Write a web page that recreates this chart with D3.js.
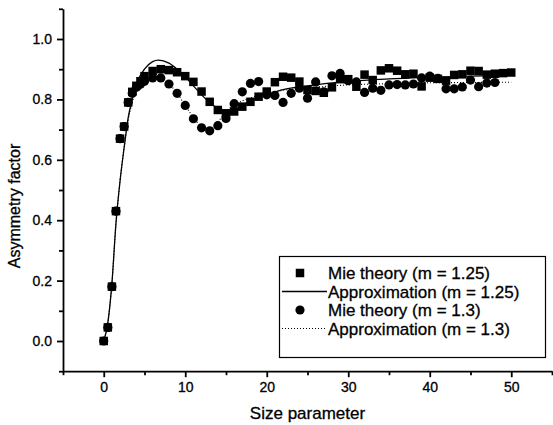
<!DOCTYPE html>
<meta charset="utf-8">
<style>
body {
  margin: 0;
  background: #fff;
  font-family: Arial, "Liberation Sans", Helvetica, sans-serif;
}
.axis path, .axis line {
  fill: none;
  stroke: #000;
  stroke-width: 1.8;
}
.axis text {
  font-size: 14px;
  fill: #000;
  stroke: #000;
  stroke-width: 0.3;
}
.label, .legend text {
  font-size: 17px;
  fill: #000;
  stroke: #000;
  stroke-width: 0.3;
}
</style>
<body>
<script src="https://cdn.jsdelivr.net/npm/d3@7"></script>
<script>

var width = 553,
    height = 425;

// Mie theory, m = 1.25 (squares)
var mieX125 = [0, 0.5, 1, 1.5, 2, 2.5, 3, 3.5, 4, 4.5, 5, 6, 7, 8, 9, 10, 11, 12, 13, 14, 15, 16, 17, 18, 19, 20,
  21, 22, 23, 24, 25, 26, 27, 28, 29, 30, 31, 32, 33, 34, 35, 36, 37, 38, 39, 40, 41, 42, 43, 44, 45, 46, 47, 48, 49, 50];
var mieY125 = [0, 0.045, 0.18, 0.43, 0.67, 0.71, 0.79, 0.825, 0.845, 0.86, 0.877, 0.894, 0.90, 0.897, 0.89, 0.877,
  0.858, 0.826, 0.792, 0.765, 0.754, 0.76, 0.776, 0.792, 0.809, 0.826, 0.857, 0.875, 0.872, 0.859, 0.831, 0.828,
  0.822, 0.84, 0.867, 0.867, 0.842, 0.882, 0.864, 0.896, 0.903, 0.895, 0.883, 0.885, 0.843, 0.872, 0.868, 0.862,
  0.881, 0.883, 0.895, 0.894, 0.882, 0.885, 0.887, 0.889];

// Mie theory, m = 1.3 (circles)
var mieX13 = [0, 0.5, 1, 1.5, 2, 2.5, 3, 3.5, 4, 4.5, 5, 6, 7, 8, 9, 10, 11, 12, 13, 14, 15, 16, 17, 18, 19, 20,
  21, 22, 23, 24, 25, 26, 27, 28, 29, 30, 31, 32, 33, 34, 35, 36, 37, 38, 39, 40, 41, 42, 43, 44, 45, 46, 47, 48];
var mieY13 = [0, 0.045, 0.18, 0.43, 0.67, 0.71, 0.79, 0.82, 0.84, 0.85, 0.86, 0.871, 0.871, 0.851, 0.82, 0.78,
  0.736, 0.706, 0.696, 0.713, 0.737, 0.786, 0.825, 0.853, 0.859, 0.815, 0.813, 0.79, 0.82, 0.837, 0.804, 0.858,
  0.825, 0.878, 0.886, 0.862, 0.858, 0.823, 0.837, 0.830, 0.848, 0.849, 0.848, 0.851, 0.871, 0.877, 0.870, 0.835,
  0.835, 0.841, 0.864, 0.842, 0.854, 0.856];

// Approximation curves
var apX = [0, 0.5, 1, 1.5, 2, 2.5, 3, 3.5, 4, 5, 6, 6.7, 8, 9, 10, 11, 12, 13, 14, 15, 16, 17, 18, 19, 20,
  22, 25, 30, 35, 40, 45, 50];
var apY125 = [0, 0.06, 0.19, 0.39, 0.53, 0.64, 0.74, 0.80, 0.85, 0.90, 0.925, 0.93, 0.92, 0.90, 0.875, 0.845,
  0.815, 0.79, 0.77, 0.76, 0.765, 0.78, 0.795, 0.806, 0.815, 0.832, 0.845, 0.86, 0.868, 0.873, 0.877, 0.88];
var apY13 = [0, 0.06, 0.19, 0.39, 0.53, 0.64, 0.73, 0.79, 0.83, 0.865, 0.878, 0.875, 0.852, 0.82, 0.78, 0.74,
  0.71, 0.70, 0.725, 0.76, 0.78, 0.795, 0.805, 0.813, 0.82, 0.83, 0.838, 0.848, 0.852, 0.855, 0.856, 0.857];

var xTicks = [0, 10, 20, 30, 40, 50];
var yTicks = [0.0, 0.2, 0.4, 0.6, 0.8, 1.0];

var legendLabels = ["Mie theory (m = 1.25)", "Approximation (m = 1.25)",
  "Mie theory (m = 1.3)", "Approximation (m = 1.3)"];

var x = d3.scaleLinear().domain([-5, 55]).range([63, 552]);
var y = d3.scaleLinear().domain([-0.1, 1.1]).range([371.2, 8.8]);

var svg = d3.select("body").append("svg")
    .attr("width", width)
    .attr("height", height);

// axes: majors with labels, minors without
svg.append("g")
    .attr("class", "axis")
    .attr("transform", "translate(0," + y(-0.1) + ")")
    .call(d3.axisBottom(x).tickValues(xTicks).tickSize(6).tickSizeOuter(0).tickPadding(5)
      .tickFormat(d3.format("d")));
svg.append("g")
    .attr("class", "axis")
    .attr("transform", "translate(0," + y(-0.1) + ")")
    .call(d3.axisBottom(x).tickValues(d3.range(-5, 56, 10)).tickSize(4).tickSizeOuter(0).tickFormat(""))
    .select(".domain").remove();

svg.append("g")
    .attr("class", "axis")
    .attr("transform", "translate(" + x(-5) + ",0)")
    .call(d3.axisLeft(y).tickValues(yTicks).tickSize(6).tickSizeOuter(0).tickPadding(5)
      .tickFormat(d3.format(".1f")));
svg.append("g")
    .attr("class", "axis")
    .attr("transform", "translate(" + x(-5) + ",0)")
    .call(d3.axisLeft(y).tickValues([-0.1, 0.1, 0.3, 0.5, 0.7, 0.9, 1.1]).tickSize(4).tickSizeOuter(0).tickFormat(""))
    .select(".domain").remove();

svg.append("text")
    .attr("class", "label")
    .attr("x", x(25))
    .attr("y", 419)
    .attr("text-anchor", "middle")
    .text("Size parameter");

svg.append("text")
    .attr("class", "label")
    .attr("transform", "translate(20," + 206 + ") rotate(-90)")
    .attr("text-anchor", "middle")
    .style("font-size", "16px")
    .text("Asymmetry factor");

// curves
var line = d3.line()
    .x(function(d) { return x(d[0]); })
    .y(function(d) { return y(d[1]); })
    .curve(d3.curveMonotoneX);

svg.append("path")
    .datum(d3.zip(apX, apY125))
    .attr("d", line)
    .attr("fill", "none")
    .attr("stroke", "#000")
    .attr("stroke-width", 1.3);

svg.append("path")
    .datum(d3.zip(apX, apY13))
    .attr("d", line)
    .attr("fill", "none")
    .attr("stroke", "#000")
    .attr("stroke-width", 1.1)
    .attr("stroke-dasharray", "1,2");

// markers
var sq = 8.5;
svg.append("g").selectAll("rect")
    .data(d3.zip(mieX125, mieY125))
  .enter().append("rect")
    .attr("x", function(d) { return x(d[0]) - sq / 2; })
    .attr("y", function(d) { return y(d[1]) - sq / 2; })
    .attr("width", sq)
    .attr("height", sq)
    .attr("fill", "#000");

svg.append("g").selectAll("circle")
    .data(d3.zip(mieX13, mieY13))
  .enter().append("circle")
    .attr("cx", function(d) { return x(d[0]); })
    .attr("cy", function(d) { return y(d[1]); })
    .attr("r", 4.6)
    .attr("fill", "#000");

// legend
var legend = svg.append("g").attr("class", "legend");
legend.append("rect")
    .attr("x", 279.5).attr("y", 256.5)
    .attr("width", 266).attr("height", 101)
    .attr("fill", "#fff")
    .attr("stroke", "#000")
    .attr("stroke-width", 1.2);

var rowY = [273, 291.5, 310, 328.5];
legendLabels.forEach(function(t, i) {
  legend.append("text")
      .attr("x", 328)
      .attr("y", rowY[i] + 6)
      .text(t);
});
legend.append("rect")
    .attr("x", 300 - sq / 2).attr("y", rowY[0] - sq / 2)
    .attr("width", sq).attr("height", sq)
    .attr("fill", "#000");
legend.append("line")
    .attr("x1", 282).attr("x2", 327)
    .attr("y1", rowY[1]).attr("y2", rowY[1])
    .attr("stroke", "#000").attr("stroke-width", 1.3);
legend.append("circle")
    .attr("cx", 300).attr("cy", rowY[2]).attr("r", 4.6)
    .attr("fill", "#000");
legend.append("line")
    .attr("x1", 282).attr("x2", 327)
    .attr("y1", rowY[3]).attr("y2", rowY[3])
    .attr("stroke", "#000").attr("stroke-width", 1.1)
    .attr("stroke-dasharray", "1,2");

</script>
